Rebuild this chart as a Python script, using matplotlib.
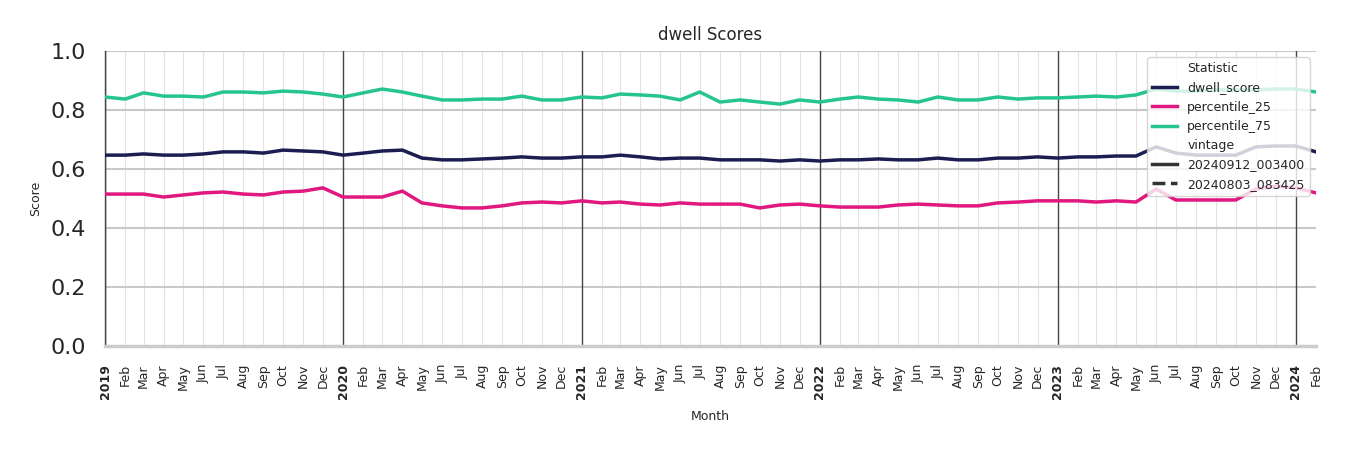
import pandas as pd
import matplotlib.pyplot as plt
from matplotlib.lines import Line2D

# Monthly scores, Jan 2019 .. Feb 2024
months = pd.date_range("2019-01-01", periods=62, freq="MS")

dwell_score = [0.647, 0.647, 0.651, 0.647, 0.647, 0.651, 0.658, 0.658, 0.654, 0.664, 0.661, 0.658,
               0.647, 0.654, 0.661, 0.664, 0.637, 0.631, 0.631, 0.634, 0.637, 0.641, 0.637, 0.637,
               0.641, 0.641, 0.647, 0.641, 0.634, 0.637, 0.637, 0.631, 0.631, 0.631, 0.627, 0.631,
               0.627, 0.631, 0.631, 0.634, 0.631, 0.631, 0.637, 0.631, 0.631, 0.637, 0.637, 0.641,
               0.637, 0.641, 0.641, 0.644, 0.644, 0.675, 0.654, 0.647, 0.647, 0.647, 0.675, 0.678,
               0.678, 0.658]
percentile_25 = [0.515, 0.515, 0.515, 0.505, 0.512, 0.519, 0.522, 0.515, 0.512, 0.522, 0.525, 0.536,
                 0.505, 0.505, 0.505, 0.525, 0.485, 0.475, 0.468, 0.468, 0.475, 0.485, 0.488, 0.485,
                 0.492, 0.485, 0.488, 0.481, 0.478, 0.485, 0.481, 0.481, 0.481, 0.468, 0.478, 0.481,
                 0.475, 0.471, 0.471, 0.471, 0.478, 0.481, 0.478, 0.475, 0.475, 0.485, 0.488, 0.492,
                 0.492, 0.492, 0.488, 0.492, 0.488, 0.532, 0.495, 0.495, 0.495, 0.495, 0.532, 0.542,
                 0.536, 0.519]
percentile_75 = [0.844, 0.837, 0.858, 0.847, 0.847, 0.844, 0.861, 0.861, 0.858, 0.864, 0.861, 0.854,
                 0.844, 0.858, 0.871, 0.861, 0.847, 0.834, 0.834, 0.837, 0.837, 0.847, 0.834, 0.834,
                 0.844, 0.841, 0.854, 0.851, 0.847, 0.834, 0.861, 0.827, 0.834, 0.827, 0.820, 0.834,
                 0.827, 0.837, 0.844, 0.837, 0.834, 0.827, 0.844, 0.834, 0.834, 0.844, 0.837, 0.841,
                 0.841, 0.844, 0.847, 0.844, 0.851, 0.871, 0.864, 0.864, 0.868, 0.868, 0.868, 0.871,
                 0.871, 0.861]

series = {"dwell_score": dwell_score, "percentile_25": percentile_25, "percentile_75": percentile_75}
colors = {"dwell_score": "#1c1e52", "percentile_25": "#e0187f", "percentile_75": "#26c48f"}
vintages = ["20240912_003400", "20240803_083425"]

fig = plt.figure(figsize=(13.5, 4.5), dpi=100)
ax = fig.add_axes([0.0778, 0.2311, 0.897, 0.6556])

# grid first so lines sit on top
for m in months:
    if m.month == 1:
        ax.axvline(m, color="#444444", lw=1.0, zorder=1)
    else:
        ax.axvline(m, color="#e2e2e2", lw=0.8, zorder=0)
for yv in [0.2, 0.4, 0.6, 0.8, 1.0]:
    ax.axhline(yv, color="#c8c8c8", lw=1.5, zorder=0)

for name, vals in series.items():
    ax.plot(months, vals, color=colors[name], lw=2.5, zorder=3)

ax.set_xlim(months[0], months[-1])
ax.set_ylim(0, 1.0)
ax.set_yticks([0.0, 0.2, 0.4, 0.6, 0.8, 1.0])
ax.tick_params(axis="y", labelsize=16, colors="#262626", length=0, pad=14)

ax.set_xticks(months)
labels = [str(m.year) if m.month == 1 else m.strftime("%b") for m in months]
ax.set_xticklabels(labels, rotation=90, fontsize=9, color="#262626")
for lbl, m in zip(ax.get_xticklabels(), months):
    if m.month == 1:
        lbl.set_fontweight("bold")
ax.tick_params(axis="x", length=0, pad=13)

for s in ["top", "right"]:
    ax.spines[s].set_visible(False)
ax.spines["left"].set_color("#444444")
ax.spines["left"].set_linewidth(1.0)
ax.spines["bottom"].set_color("#cccccc")
ax.spines["bottom"].set_linewidth(2.5)

ax.set_title("dwell Scores", fontsize=12, color="#262626", pad=8)
ax.set_ylabel("Score", fontsize=9, color="#262626", labelpad=6)
ax.set_xlabel("Month", fontsize=9, color="#262626", labelpad=8)

# legend in seaborn style: hue block then style block
blank = Line2D([], [], color="none")
handles = [blank]
names = ["Statistic"]
for name in series:
    handles.append(Line2D([], [], color=colors[name], lw=2.5))
    names.append(name)
handles.append(blank)
names.append("vintage")
handles.append(Line2D([], [], color="#333333", lw=2.5, ls="-"))
handles.append(Line2D([], [], color="#333333", lw=2.5, ls="--"))
names += vintages
leg = ax.legend(handles, names, loc="upper right", fontsize=9, framealpha=0.8,
                edgecolor="#cccccc", borderaxespad=0.5)
leg.set_zorder(5)
for t in leg.get_texts():
    t.set_color("#262626")

fig.savefig("out.png", dpi=100)
